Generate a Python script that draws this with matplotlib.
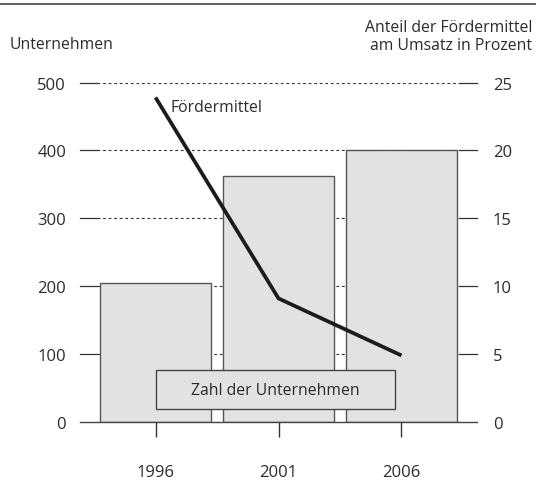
import numpy as np
import matplotlib
matplotlib.use("Agg")
import matplotlib.pyplot as plt
from matplotlib.patches import Rectangle

plt.rcParams['font.family'] = ['Open Sans', 'DejaVu Sans']

years = ['1996', '2001', '2006']
unternehmen = [204, 363, 401]          # Zahl der Unternehmen (linke Achse)
foerdermittel = [23.9, 9.1, 4.9]       # Anteil am Umsatz in Prozent (rechte Achse)
left_ticks = [0, 100, 200, 300, 400, 500]
right_ticks = [0, 5, 10, 15, 20, 25]

txt = '#2b2b2b'
fs = 11.3
tfs = 12
W, H = 536, 485
fig = plt.figure(figsize=(W / 100, H / 100), dpi=100)

x = np.arange(len(years))
xlo, xhi = -0.614, 2.614
ax = fig.add_axes([80 / W, 1 - 423 / H, 397 / W, 339.5 / H])
ax.set_xlim(xlo, xhi)
ax.set_ylim(0, 500)
for s in ['left', 'right', 'top']:
    ax.spines[s].set_visible(False)
ax.spines['bottom'].set_color('#444444')
ax.spines['bottom'].set_linewidth(1.0)

# gridlines: short solid ends, dashed middle
g_in_lo, g_in_hi = -0.476, 2.475
for t in left_ticks[1:]:
    ax.plot([xlo, g_in_lo], [t, t], color='#333333', lw=0.9, clip_on=False, zorder=1)
    ax.plot([g_in_hi, xhi], [t, t], color='#333333', lw=0.9, clip_on=False, zorder=1)
    ax.plot([g_in_lo, g_in_hi], [t, t], color='#333333', lw=0.8,
            ls=(0, (2.5, 2.5)), zorder=1)

ax.bar(x, unternehmen, width=0.9, color='#e1e2e4', edgecolor='#555555',
       linewidth=1.0, zorder=2)

ax.set_yticks(left_ticks)
ax.tick_params(axis='y', length=0, pad=10, labelsize=tfs, labelcolor=txt)
ax.set_xticks(x)
ax.set_xticklabels(years)
ax.tick_params(axis='x', direction='out', length=11, width=1.0, color='#333333',
               pad=19, labelsize=tfs, labelcolor=txt)

# legend box for bars
ax.add_patch(Rectangle((0.0, 19.7), 1.95, 56.3, facecolor='#e1e2e4',
                       edgecolor='#444444', linewidth=1.0, zorder=4))
ax.text(0.975, 47.8, 'Zahl der Unternehmen', ha='center', va='center',
        fontsize=fs, color=txt, zorder=5)

ax2 = ax.twinx()
ax2.set_ylim(0, 25)
for s in ['left', 'right', 'top', 'bottom']:
    ax2.spines[s].set_visible(False)
ax2.set_yticks(right_ticks)
ax2.tick_params(axis='y', length=0, pad=11.5, labelsize=tfs, labelcolor=txt)
ax2.plot(x, foerdermittel, color='#1c1c1c', lw=2.7, solid_capstyle='butt',
         solid_joinstyle='miter', zorder=6)
ax2.text(0.12, 23.2, 'Fördermittel', ha='left', va='center', fontsize=fs,
         color=txt)

fig.add_artist(plt.Line2D([0, 1], [1 - 5 / H, 1 - 5 / H], color='#444444', lw=1.2))
fig.text(10 / W, 1 - 45 / H, 'Unternehmen', ha='left', va='center',
         fontsize=fs, color=txt)
fig.text(532 / W, 1 - 37 / H, 'Anteil der Fördermittel\nam Umsatz in Prozent',
         ha='right', va='center', fontsize=fs, color=txt, linespacing=1.15)

fig.savefig('out.png', dpi=100)
